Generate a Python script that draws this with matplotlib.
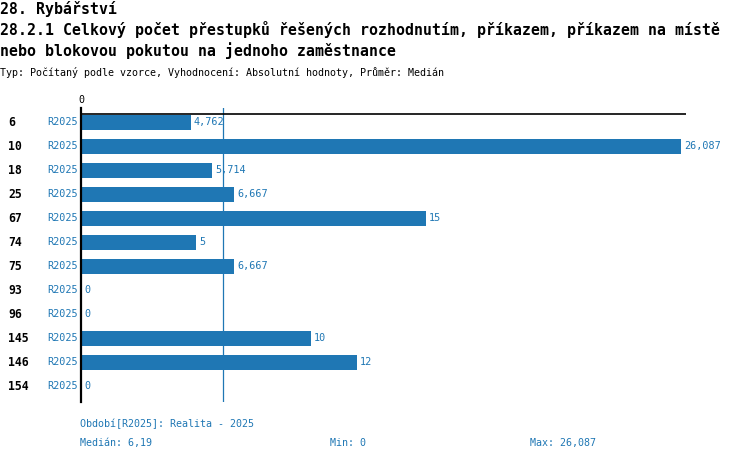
import matplotlib
matplotlib.use("Agg")
import matplotlib.pyplot as plt
import numpy as np

categories = ["6", "10", "18", "25", "67", "74", "75", "93", "96", "145", "146", "154"]
values = [4.762, 26.087, 5.714, 6.667, 15, 5, 6.667, 0, 0, 10, 12, 0]
value_labels = ["4,762", "26,087", "5,714", "6,667", "15", "5", "6,667", "0", "0", "10", "12", "0"]
period = "R2025"
median_val = 6.19
median_label = "6,19"
min_label = "0"
max_label = "26,087"

title1 = "28. Rybářství"
title2 = "28.2.1 Celkový počet přestupků řešených rozhodnutím, příkazem, příkazem na místě"
title3 = "nebo blokovou pokutou na jednoho zaměstnance"
subtitle = "Typ: Počítaný podle vzorce, Vyhodnocení: Absolutní hodnoty, Průměr: Medián"
footer1 = "Období[R2025]: Realita - 2025"

BLUE = "#1f77b4"
FONT = "DejaVu Sans Mono"
plt.rcParams["font.family"] = FONT

W, H = 750, 462
fig = plt.figure(figsize=(W / 100, H / 100), dpi=100)

def fx(px):
    return px / W

def fy(py):
    return 1 - py / H

# axes in pixel coords
ax_left, ax_right, ax_top, ax_bot = 81, 686, 108, 402
ax = fig.add_axes([fx(ax_left), fy(ax_bot), fx(ax_right - ax_left), (ax_bot - ax_top) / H])

n = len(categories)
y = np.arange(n)
ax.barh(y, values, height=0.65, color=BLUE, zorder=2)
vmax = max(values)
ax.set_xlim(0, vmax * 605 / 600)
ax.set_ylim(11.654, -0.596)

for sp in ["top", "right", "bottom"]:
    ax.spines[sp].set_visible(False)
ax.spines["left"].set_color("black")
ax.spines["left"].set_linewidth(1.6)
ax.set_xticks([])
ax.set_yticks([])
ax.patch.set_alpha(0)

ax.axhline(-0.333, color="black", lw=1.2, zorder=3)
ax.axvline(median_val, color=BLUE, lw=0.9, zorder=1)

for yi, v, lab in zip(y, values, value_labels):
    ax.annotate(lab, (v, yi), xytext=(2.2, 0), textcoords="offset points",
                va="center", ha="left", fontsize=7.3, color=BLUE)
    ax.annotate(period, (0, yi), xytext=(-2.5, 0), textcoords="offset points",
                va="center", ha="right", fontsize=7.3, color=BLUE)
    ax.annotate(categories[yi], (0, yi), xycoords=("figure fraction", "data"),
                xytext=(8 * 0.72, 0), textcoords="offset points",
                va="center", ha="left", fontsize=8.3, fontweight="bold", color="black")

ax.annotate("0", (0, -0.596), xytext=(0, 2), textcoords="offset points",
            ha="center", va="bottom", fontsize=7.2, color="black", annotation_clip=False)

fig.text(fx(0), fy(9), title1, fontsize=10.7, fontweight="bold", va="center", ha="left")
fig.text(fx(0), fy(30), title2, fontsize=10.7, fontweight="bold", va="center", ha="left")
fig.text(fx(0), fy(51), title3, fontsize=10.7, fontweight="bold", va="center", ha="left")
fig.text(fx(0), fy(73), subtitle, fontsize=7.2, va="center", ha="left")

fig.text(fx(80), fy(424), footer1, fontsize=7.2, color=BLUE, va="center", ha="left")
fig.text(fx(80), fy(443), "Medián: " + median_label, fontsize=7.2, color=BLUE, va="center", ha="left")
fig.text(fx(330), fy(443), "Min: " + min_label, fontsize=7.2, color=BLUE, va="center", ha="left")
fig.text(fx(530), fy(443), "Max: " + max_label, fontsize=7.2, color=BLUE, va="center", ha="left")

fig.savefig("out.png", dpi=100)
